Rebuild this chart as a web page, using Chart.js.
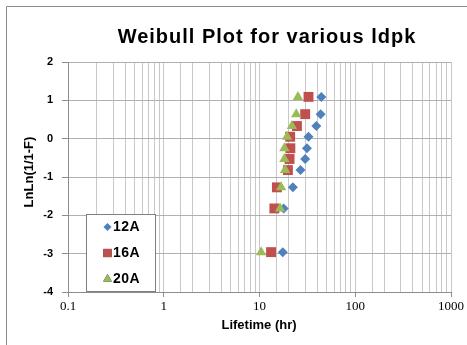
<!DOCTYPE html>
<html>
<head>
<meta charset="utf-8">
<script src="https://cdn.jsdelivr.net/npm/chart.js@4/dist/chart.umd.min.js"></script>
<style>
  html, body { margin: 0; padding: 0; background: #fff; }
</style>
</head>
<body>
<canvas id="weibullChart" width="467" height="345"></canvas>
<script>
// data
const seriesNames = ['12A', '16A', '20A'];
const lnln = [-2.96, -1.82, -1.27, -0.82, -0.53, -0.25, 0.05, 0.33, 0.64, 1.09];
const life12A = [17.5, 17.9, 22.3, 26.8, 30.0, 31.3, 32.5, 39.2, 43.5, 44.2];
const life16A = [13.2, 14.3, 15.2, 19.8, 20.6, 21.0, 20.9, 24.6, 30.0, 32.5];
const life20A = [10.4, 16.4, 16.8, 18.5, 18.2, 18.2, 19.4, 21.8, 24.2, 25.2];
const xTickLabels = ['0.1', '1', '10', '100', '1000'];
const yTickLabels = [-4, -3, -2, -1, 0, 1, 2];

const colors = ['#4F81BD', '#C0504D', '#9BBB59'];
const styles = ['rectRot', 'rect', 'triangle'];
const radii = [5, 7, 6];

function pts(xs) {
  return xs.map((x, i) => ({ x: x, y: lnln[i] }));
}

function isDecade(v) {
  const l = Math.log10(v);
  return Math.abs(l - Math.round(l)) < 1e-9;
}

const lifetimes = [life12A, life16A, life20A];
const datasets = seriesNames.map((name, i) => ({
  label: name,
  data: pts(lifetimes[i]),
  pointStyle: styles[i],
  pointRadius: radii[i],
  pointHoverRadius: radii[i],
  backgroundColor: colors[i],
  borderColor: colors[i],
  borderWidth: 0,
  order: 2 - i
}));

// frame, titles and legend drawn by hand so they sit where Excel put them
const decorations = {
  id: 'decorations',
  beforeDraw(chart) {
    const c = chart.ctx;
    c.save();
    c.fillStyle = '#fff';
    c.fillRect(0, 0, chart.width, chart.height);
    c.restore();
  },
  afterDraw(chart) {
    const c = chart.ctx;
    c.save();
    // outer chart frame
    c.strokeStyle = '#8c8c8c';
    c.lineWidth = 1;
    c.beginPath();
    c.moveTo(6.5, chart.height + 2);
    c.lineTo(6.5, 6.5);
    c.lineTo(chart.width + 2, 6.5);
    c.stroke();

    // title
    c.fillStyle = '#000';
    c.font = 'bold 20px "Liberation Sans", Arial, sans-serif';
    c.letterSpacing = '1px';
    c.textAlign = 'center';
    c.textBaseline = 'middle';
    c.fillText('Weibull Plot for various ldpk', 267, 37);
    c.letterSpacing = '0px';

    // axis titles
    c.font = 'bold 13px "Liberation Sans", Arial, sans-serif';
    c.fillText('Lifetime (hr)', 259, 325);
    c.save();
    c.translate(29, 172);
    c.rotate(-Math.PI / 2);
    c.fillText('LnLn(1/1-F)', 0, 0);
    c.restore();

    // legend
    c.fillStyle = '#fff';
    c.fillRect(87, 214, 69, 78);
    c.strokeStyle = '#7f7f7f';
    c.strokeRect(86.5, 214.5, 69, 77);
    const rows = [227, 253, 279];
    const legendR = [4, 5.8, 5];
    seriesNames.forEach((name, i) => {
      Chart.helpers.drawPoint(c, {
        pointStyle: styles[i], rotation: 0, radius: legendR[i], borderWidth: 0
      }, 107.5, rows[i]);
      c.fillStyle = colors[i];
      c.fill();
      c.fillStyle = '#000';
      c.font = 'bold 14px "Liberation Sans", Arial, sans-serif';
      c.textAlign = 'left';
      c.letterSpacing = '0.5px';
      c.fillText(name, 113, rows[i] + 0.5);
      c.letterSpacing = '0px';
    });
    c.restore();
  }
};

const ctx = document.getElementById('weibullChart');

new Chart(ctx, {
  type: 'scatter',
  data: { datasets: datasets },
  plugins: [decorations],
  options: {
    responsive: false,
    animation: false,
    devicePixelRatio: 1,
    layout: { padding: { left: 0, top: 62, right: 16, bottom: 0 } },
    plugins: {
      legend: { display: false },
      title: { display: false },
      tooltip: { enabled: false }
    },
    scales: {
      x: {
        type: 'logarithmic',
        min: 0.1,
        max: 1000,
        afterFit: s => { s.height = 53; },
        border: { color: '#8c8c8c' },
        grid: {
          color: '#c8c8c8',
          tickLength: 5,
          tickColor: c => (c.tick && isDecade(c.tick.value)) ? '#8c8c8c' : 'rgba(0,0,0,0)'
        },
        ticks: {
          autoSkip: false,
          maxRotation: 0,
          padding: 2,
          color: '#000',
          font: { family: '"Liberation Serif", "Times New Roman", serif', size: 13 },
          callback: v => isDecade(v) ? xTickLabels[Math.round(Math.log10(v)) + 1] : ''
        }
      },
      y: {
        min: -4,
        max: 2,
        afterFit: s => { s.width = 68; },
        border: { color: '#8c8c8c' },
        grid: { color: '#b0b0b0', tickLength: 6, tickColor: '#8c8c8c' },
        afterBuildTicks: s => { s.ticks = yTickLabels.map(v => ({ value: v })); },
        ticks: {
          padding: 9,
          color: '#000',
          font: { family: '"Liberation Sans", Arial, sans-serif', size: 11, weight: 'bold' }
        }
      }
    }
  }
});
</script>
</body>
</html>
